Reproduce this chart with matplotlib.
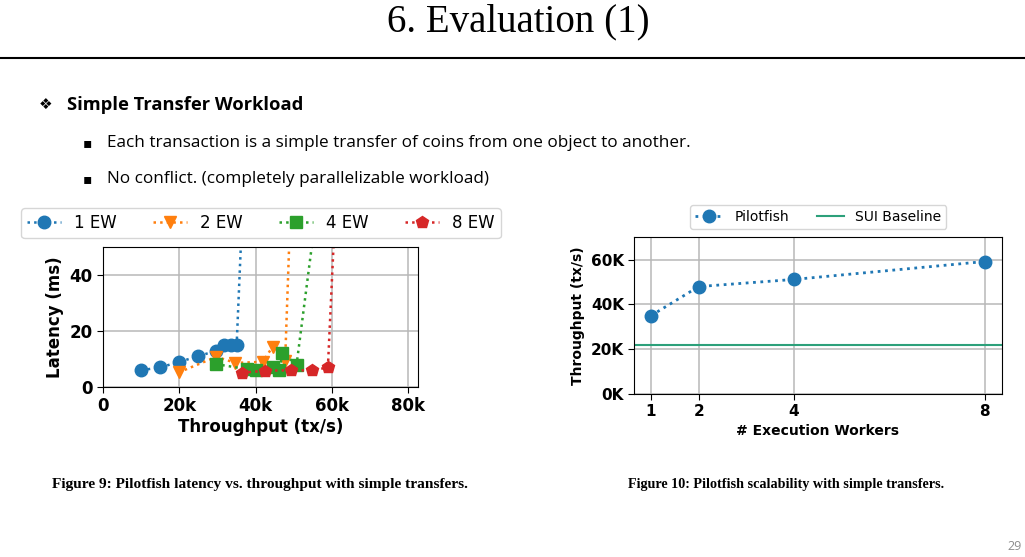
import matplotlib
matplotlib.use("Agg")
import matplotlib.pyplot as plt
from matplotlib.lines import Line2D

plt.rcParams["font.family"] = "DejaVu Sans"

# Figure 9 data: latency vs throughput (throughput in tx/s, latency in ms)
ew1_tput = [10000, 15000, 20000, 25000, 29700, 31600, 33600, 35000, 36400]
ew1_lat = [6.0, 7.0, 9.0, 11.0, 13.0, 15.0, 15.0, 15.0, 60.0]
ew2_tput = [19800, 29700, 34700, 41900, 44400, 47700, 49000]
ew2_lat = [5.2, 10.8, 8.6, 9.0, 14.4, 9.4, 60.0]
ew4_tput = [29500, 37600, 40000, 44400, 46200, 47000, 50700, 55600]
ew4_lat = [8.2, 6.4, 6.0, 7.3, 6.1, 12.2, 8.0, 60.0]
ew8_tput = [36400, 42400, 49300, 54800, 58900, 60700]
ew8_lat = [5.1, 5.8, 6.0, 5.9, 7.0, 60.0]

# Figure 10 data: scalability
workers = [1, 2, 4, 8]
pilotfish_tput = [35000, 48000, 51200, 59200]
sui_baseline = 21800

fig = plt.figure(figsize=(10.25, 5.57), dpi=100)

# slide header
fig.text(0.506, 0.960, "6. Evaluation (1)", ha="center", va="center",
         fontsize=28, family="Liberation Serif")
fig.add_artist(Line2D([0, 1], [0.896, 0.896], color="black", lw=1.5))

body_font = ["Open Sans", "DejaVu Sans"]
fig.text(0.038, 0.812, "\u2756", ha="left", va="center", fontsize=11, family="DejaVu Sans")
fig.text(0.065, 0.812, "Simple Transfer Workload", ha="left", va="center",
         fontsize=13.2, fontweight="bold", family=body_font)
for yy, txt in [(0.744, "Each transaction is a simple transfer of coins from one object to another."),
                (0.679, "No conflict. (completely parallelizable workload)")]:
    fig.text(0.081, yy, "\u25aa", ha="left", va="center", fontsize=10, family="DejaVu Sans")
    fig.text(0.104, yy, txt, ha="left", va="center", fontsize=12.3, family=body_font)

# captions and page number
fig.text(0.051, 0.130, "Figure 9: Pilotfish latency vs. throughput with simple transfers.",
         ha="left", va="center", fontsize=11.1, fontweight="bold", family="Liberation Serif")
fig.text(0.613, 0.130, "Figure 10: Pilotfish scalability with simple transfers.",
         ha="left", va="center", fontsize=10.2, fontweight="bold", family="Liberation Serif")
fig.text(0.997, 0.018, "29", ha="right", va="center", fontsize=9, color="#8c8c8c",
         family=body_font)

# Figure 9
ax1 = fig.add_axes([0.1005, 0.3052, 0.3073, 0.2513])
series = [(ew1_tput, ew1_lat, "o", "#1f77b4", "1 EW"),
          (ew2_tput, ew2_lat, "v", "#ff7f0e", "2 EW"),
          (ew4_tput, ew4_lat, "s", "#2ca02c", "4 EW"),
          (ew8_tput, ew8_lat, "p", "#d62728", "8 EW")]
for xs, ys, mk, col, lab in series:
    ax1.plot(xs, ys, linestyle=":", lw=1.8, marker=mk, ms=9, color=col, label=lab)
ax1.set_xlim(0, 82500)
ax1.set_ylim(0, 50)
ax1.set_xticks([0, 20000, 40000, 60000, 80000])
ax1.set_xticklabels(["0", "20k", "40k", "60k", "80k"])
ax1.set_yticks([0, 20, 40])
ax1.grid(True, color="#b8b8b8", lw=1.1)
ax1.set_axisbelow(True)
ax1.tick_params(labelsize=12, length=4)
for lbl in ax1.get_xticklabels() + ax1.get_yticklabels():
    lbl.set_fontweight("bold")
ax1.set_xlabel("Throughput (tx/s)", fontsize=12, fontweight="bold", labelpad=2)
ax1.set_ylabel("Latency (ms)", fontsize=12, fontweight="bold", labelpad=4)
fig.legend(*ax1.get_legend_handles_labels(), loc="center", ncol=4,
           bbox_to_anchor=(0.2546, 0.5996), fontsize=12, columnspacing=2.2,
           handlelength=2.0, borderpad=0.35)

# Figure 10
ax2 = fig.add_axes([0.6188, 0.2926, 0.3584, 0.2813])
ax2.plot(workers, pilotfish_tput, linestyle=":", lw=2, marker="o", ms=9,
         color="#1f77b4", label="Pilotfish")
ax2.axhline(sui_baseline, color="#2ca07a", lw=1.5, label="SUI Baseline")
ax2.set_xticks(workers)
ax2.set_ylim(0, 70000)
ax2.set_yticks([0, 20000, 40000, 60000])
ax2.set_yticklabels(["0K", "20K", "40K", "60K"])
ax2.grid(True, color="#b8b8b8", lw=1.1)
ax2.set_axisbelow(True)
ax2.tick_params(labelsize=11, length=4)
for lbl in ax2.get_xticklabels() + ax2.get_yticklabels():
    lbl.set_fontweight("bold")
ax2.set_xlabel("# Execution Workers", fontsize=10, fontweight="bold", labelpad=3)
ax2.set_ylabel("Throughput (tx/s)", fontsize=10, fontweight="bold")
fig.legend(*ax2.get_legend_handles_labels(), loc="center", ncol=2,
           bbox_to_anchor=(0.7985, 0.6099), fontsize=10, columnspacing=2.0,
           handlelength=2.0, borderpad=0.35)

fig.savefig("out.png", dpi=100)
